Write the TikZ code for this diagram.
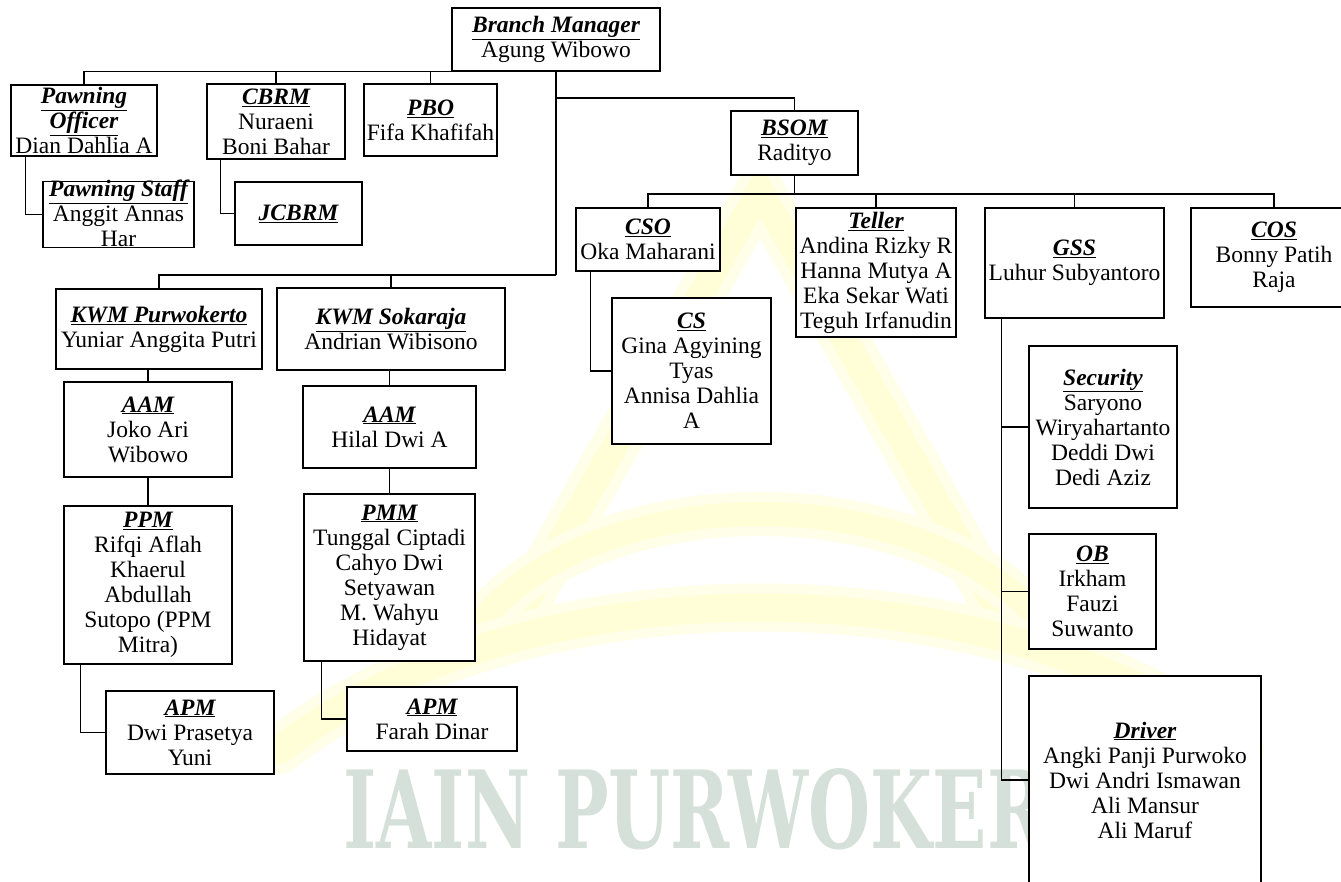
\documentclass[tikz,border=0pt]{standalone}
\usepackage{fontspec}
\usepackage{graphicx}
\setmainfont{Liberation Serif}
\newfontfamily\tandafont{DejaVu Serif}
\usepackage{xcolor}
\definecolor{tandair}{RGB}{214,224,219}
\definecolor{kuningpudar}{RGB}{255,254,214}
\definecolor{kuningtipis}{RGB}{255,254,232}

\newcommand{\jabatan}[1]{\textbf{\textit{\underline{#1}}}}

\begin{document}
\begin{tikzpicture}[
                x=1pt, y=-1pt,
                every node/.style={font=\fontsize{23.5}{25}\selectfont},
                kotak/.style={draw=black, fill=white, line width=1.3pt,
                    align=center, inner sep=1pt},
                garis/.style={line width=1.3pt, draw=black}
            ]
                \useasboundingbox (0,0) rectangle (1341,881);
                \clip (0,0) rectangle (1341,881);

                % watermark di belakang
                \draw[kuningtipis, line width=48pt, line cap=round] (505,640) -- (760,190) -- (1015,640);
                \draw[kuningpudar, line width=26pt, line cap=round] (505,640) -- (760,190) -- (1015,640);
                \draw[kuningtipis, line width=44pt, line cap=round] (476,628) .. controls (590,476) and (930,476) .. (1046,628);
                \draw[kuningpudar, line width=24pt, line cap=round] (476,628) .. controls (590,476) and (930,476) .. (1046,628);
                \draw[kuningtipis, line width=48pt, line cap=round] (280,750) .. controls (520,560) and (1000,560) .. (1240,750);
                \draw[kuningpudar, line width=28pt, line cap=round] (280,750) .. controls (520,560) and (1000,560) .. (1240,750);
                \begin{scope}
                    \clip (0,0) rectangle (1029,881);
                    \node[anchor=base west, inner sep=0, text=tandair, font=\tandafont\bfseries] (tanda) at (343,848)
                        {\resizebox{703pt}{80pt}{IAIN PURWOKER}};
                \end{scope}

                % pimpinan
                \node[kotak, minimum width=208pt, minimum height=63pt] (bm) at (556,39.5) {\jabatan{Branch Manager}\\Agung Wibowo};
                \node[kotak, minimum width=146pt, minimum height=71pt] (po) at (84,120.5) {\jabatan{Pawning}\\\jabatan{Officer}\\Dian Dahlia A};
                \node[kotak, minimum width=138pt, minimum height=75pt] (cbrm) at (276,121.5) {\jabatan{CBRM}\\Nuraeni\\Boni Bahar};
                \node[kotak, minimum width=133pt, minimum height=72pt] (pbo) at (430.5,120) {\jabatan{PBO}\\Fifa Khafifah};
                \node[kotak, minimum width=151pt, minimum height=65pt, text height=64pt, text depth=0pt] (ps) at (118.5,214.5) {\jabatan{Pawning Staff}\\Anggit Annas\\Har};
                \node[kotak, minimum width=127pt, minimum height=63pt] (jcbrm) at (298.5,213.5) {\jabatan{JCBRM}};
                \node[kotak, minimum width=127pt, minimum height=64pt] (bsom) at (794.5,143) {\jabatan{BSOM}\\Radityo};

                % kantor wilayah mikro
                \node[kotak, minimum width=206pt, minimum height=80pt] (kwmp) at (159,329) {\jabatan{KWM Purwokerto}\\Yuniar Anggita Putri};
                \node[kotak, minimum width=228pt, minimum height=82pt] (kwms) at (391,329) {\jabatan{KWM Sokaraja}\\Andrian Wibisono};
                \node[kotak, minimum width=168pt, minimum height=95pt] (aamp) at (148,429.5) {\jabatan{AAM}\\Joko Ari\\Wibowo};
                \node[kotak, minimum width=173pt, minimum height=82pt] (aams) at (389.5,427) {\jabatan{AAM}\\Hilal Dwi A};
                \node[kotak, minimum width=168pt, minimum height=158pt] (ppm) at (148,585) {\jabatan{PPM}\\Rifqi Aflah\\Khaerul\\Abdullah\\Sutopo (PPM\\Mitra)};
                \node[kotak, minimum width=171pt, minimum height=167pt] (pmm) at (389.5,577.5) {\jabatan{PMM}\\Tunggal Ciptadi\\Cahyo Dwi\\Setyawan\\M. Wahyu\\Hidayat};
                \node[kotak, minimum width=168pt, minimum height=83pt] (apmp) at (190,732.5) {\jabatan{APM}\\Dwi Prasetya\\Yuni};
                \node[kotak, minimum width=170pt, minimum height=64pt] (apms) at (432,719) {\jabatan{APM}\\Farah Dinar};

                % operasional
                \node[kotak, minimum width=144pt, minimum height=63pt] (cso) at (648,239.5) {\jabatan{CSO}\\Oka Maharani};
                \node[kotak, minimum width=159pt, minimum height=146pt] (cs) at (691.5,371) {\jabatan{CS}\\Gina Agyining\\Tyas\\Annisa Dahlia\\A};
                \node[kotak, minimum width=160pt, minimum height=129pt] (teller) at (876,272.5) {\jabatan{Teller}\\Andina Rizky R\\Hanna Mutya A\\Eka Sekar Wati\\Teguh Irfanudin};
                \node[kotak, minimum width=179pt, minimum height=110pt] (gss) at (1074.5,263) {\jabatan{GSS}\\Luhur Subyantoro};
                \node[kotak, minimum width=166pt, minimum height=99pt] (cos) at (1274,257.5) {\jabatan{COS}\\Bonny Patih\\Raja};
                \node[kotak, minimum width=148pt, minimum height=162pt] (satpam) at (1103,427) {\jabatan{Security}\\Saryono\\Wiryahartanto\\Deddi Dwi\\Dedi Aziz};
                \node[kotak, minimum width=127pt, minimum height=115pt] (ob) at (1092.5,591.5) {\jabatan{OB}\\Irkham\\Fauzi\\Suwanto};
                \node[kotak, minimum width=232pt, minimum height=208pt] (driver) at (1145,780) {\jabatan{Driver}\\Angki Panji Purwoko\\Dwi Andri Ismawan\\Ali Mansur\\Ali Maruf};

                \coordinate (bsombus) at (556,98);
                \coordinate (kwmbus) at (556,275);
                \coordinate (opsbus) at (794.5,194);

                % garis
                \draw[garis] (bm.south) -| (po.north);
                \draw[garis] (bm.south) -| (cbrm.north);
                \draw[garis] (bm.south) -| (pbo.north);
                \draw[garis] (bm.south) -- (kwmbus);
                \draw[garis] (bsombus) -| (bsom.north);
                \draw[garis] (kwmbus) -| (kwmp.north);
                \draw[garis] (kwmbus) -| (kwms.north);
                \draw[garis] ([xshift=15pt]po.south west) |- (ps.west);
                \draw[garis] ([xshift=14pt]cbrm.south west) |- (jcbrm.west);
                \draw[garis] (aamp.north |- kwmp.south) -- (aamp.north);
                \draw[garis] (aams.north |- kwms.south) -- (aams.north);
                \draw[garis] (aamp.south) -- (ppm.north);
                \draw[garis] (aams.south) -- (pmm.north);
                \draw[garis] ([xshift=17pt]ppm.south west) |- (apmp.west);
                \draw[garis] ([xshift=18pt]pmm.south west) |- (apms.west);
                \draw[garis] (bsom.south) -- (opsbus);
                \draw[garis] (opsbus) -| (cso.north);
                \draw[garis] (opsbus) -| (teller.north);
                \draw[garis] (opsbus) -| (gss.north);
                \draw[garis] (opsbus) -| (cos.north);
                \draw[garis] ([xshift=15pt]cso.south west) |- (cs.west);
                \draw[garis] ([xshift=17pt]gss.south west) |- (satpam.west);
                \draw[garis] ([xshift=17pt]gss.south west) |- (ob.west);
                \draw[garis] ([xshift=17pt]gss.south west) |- (driver.west);
            \end{tikzpicture}
\end{document}
